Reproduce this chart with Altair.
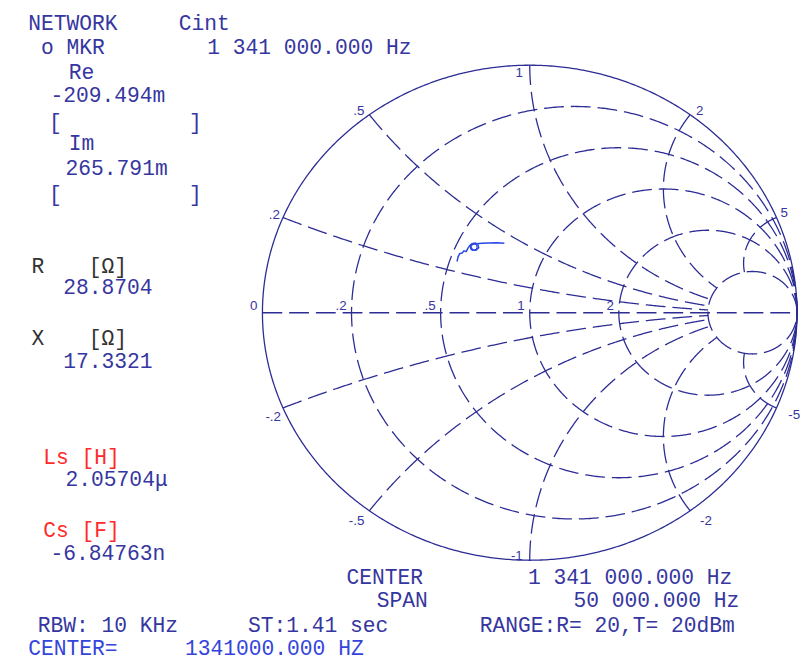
import re
import numpy as np
import pandas as pd
import altair as alt

# ---------------- values ----------------
R_CIRCLES = [0.2, 0.5, 1, 2, 5]                      # constant-resistance circles (normalised)
X_ARCS = [0.2, 0.5, 1, 2, 5, -0.2, -0.5, -1, -2, -5]  # constant-reactance arcs
R_LABEL_VALUES = [0, 0.2, 0.5, 1, 2]
R_LABELS = ["0", ".2", ".5", "1", "2"]
X_LABEL_VALUES = [0.2, 0.5, 1, 2, 5, -0.2, -0.5, -1, -2, -5]
X_LABELS = [".2", ".5", "1", "2", "5", "-.2", "-.5", "-1", "-2", "-5"]

# measured impedance locus (reflection coefficient, Re / Im)
TRACE_RE = [-0.272, -0.268, -0.262, -0.253, -0.246, -0.238, -0.231, -0.225, -0.216, -0.204,
            -0.194, -0.191, -0.201, -0.214, -0.221, -0.214, -0.198, -0.179, -0.154, -0.124, -0.095]
TRACE_IM = [0.207, 0.226, 0.239, 0.241, 0.250, 0.247, 0.261, 0.271, 0.279, 0.282,
            0.277, 0.263, 0.253, 0.255, 0.266, 0.277, 0.279, 0.281, 0.282, 0.283, 0.281]
MARKER_RE = [-0.209494]
MARKER_IM = [0.265791]

LEFT_LINES = [
    "NETWORK  Cint",
    " o MKR   1 341 000.000 Hz",
    "   Re",
    " -209.494m",
    "  [       ]",
    "   Im",
    "  265.791m",
    "  [       ]",
    " R  [Ω]",
    "  28.8704",
    " X  [Ω]",
    "  17.3321",
    " Ls [H]",
    "  2.05704μ",
    " Cs [F]",
    " -6.84763n",
]
BOTTOM_LINES = [
    "CENTER   1 341 000.000 Hz",
    "  SPAN      50 000.000 Hz",
]
FOOT_LINES = [
    "RBW: 10 KHz ST:1.41 sec RANGE:R= 20,T= 20dBm",
    "CENTER= 1341000.000 HZ",
]

# ---------------- layout / style ----------------
W, H = 802, 656
CX, CY = 527.0, 304.5
RX, RY = 270.0, 250.0
XDOM = [-CX / RX, (W - CX) / RX]
YDOM = [(CY - H) / RY, CY / RY]

NAVY = "#3636a0"
GRID = "#2c2c94"
TRACE = "#2a48e4"
RED = "#ff2a2a"
DARK = "#333333"
BRIGHT = "#3344dd"

MONO = "Liberation Mono"
MONO_SIZE = 21.5
PITCH = 17.7              # character pitch of the instrument's screen font
BREAK_AT = ["ST:1.41", "RANGE:R=", "1341000.000"]

LEFT_BASE = [27, 51, 76, 100, 127, 148, 173, 200, 272, 294, 345, 368, 465, 488, 539, 562]
LEFT_COLORS = [NAVY] * 8 + [DARK, NAVY, DARK, NAVY, RED, NAVY, RED, NAVY]
BOTTOM_BASE = [586, 610]
FOOT_BASE = [635, 658]
FOOT_COLORS = [NAVY, BRIGHT]

# pixel offsets of the grid labels (align, dx, dy)
R_LABEL_POS = [("right", -5, -3)] * 5
X_LABEL_POS = [("right", -3, 1), ("right", -5, 0), ("right", -7, 12), ("left", 6, 0), ("left", 4, -1),
               ("right", -2, 13), ("right", -5, 14), ("right", -7, 0), ("left", 10, 14), ("left", 12, 11)]


def gamma(z):
    return (z - 1) / (z + 1)


def to_gx(px):
    return (px - 8 - CX) / RX


def to_gy(py):
    return (CY - (py - 8)) / RY


# ---------------- grid geometry ----------------
theta = np.linspace(0, 2 * np.pi, 721)
rim = pd.DataFrame({"gx": np.cos(theta), "gy": np.sin(theta), "k": np.arange(len(theta)), "pid": "rim"})

rows = []
for r in R_CIRCLES:
    c, rad = r / (1 + r), 1 / (1 + r)
    for k, t in enumerate(theta):
        rows.append((c + rad * np.cos(t), rad * np.sin(t), k, f"r{r}"))
t = np.linspace(0, 1, 300)
rr = 5 * t ** 2
for x in X_ARCS:
    g = gamma(rr + 1j * x)
    for k, gv in enumerate(g):
        rows.append((gv.real, gv.imag, k, f"x{x}"))
rows.append((-1.0, 0.0, 0, "axis"))
rows.append((1.0, 0.0, 1, "axis"))
grid = pd.DataFrame(rows, columns=["gx", "gy", "k", "pid"])

xs = alt.Scale(domain=XDOM, nice=False, zero=False)
ys = alt.Scale(domain=YDOM, nice=False, zero=False)
X = alt.X("gx:Q", scale=xs, axis=None)
Y = alt.Y("gy:Q", scale=ys, axis=None)

rim_layer = alt.Chart(rim).mark_line(color=GRID, strokeWidth=1.3).encode(
    x=X, y=Y, order="k:Q", detail="pid:N")
grid_layer = alt.Chart(grid).mark_line(color=GRID, strokeWidth=1.3, strokeDash=[20, 7]).encode(
    x=X, y=Y, order="k:Q", detail="pid:N")

# ---------------- grid labels ----------------
lab_rows = []
for v, s, (al, dx, dy) in zip(R_LABEL_VALUES, R_LABELS, R_LABEL_POS):
    g = gamma(complex(v, 0))
    lab_rows.append((g.real + dx / RX, g.imag - dy / RY, s, al))
for v, s, (al, dx, dy) in zip(X_LABEL_VALUES, X_LABELS, X_LABEL_POS):
    g = gamma(complex(0, v))
    lab_rows.append((g.real + dx / RX, g.imag - dy / RY, s, al))
labs = pd.DataFrame(lab_rows, columns=["gx", "gy", "t", "al"])
lab_layers = [
    alt.Chart(labs[labs.al == al]).mark_text(
        align=al, baseline="alphabetic", font="Liberation Sans", fontSize=13.5, color=NAVY
    ).encode(x=X, y=Y, text="t:N")
    for al in ["left", "right"]
]

# ---------------- trace + marker ----------------
trace = pd.DataFrame({"gx": TRACE_RE, "gy": TRACE_IM, "k": range(len(TRACE_RE))})
trace_layer = alt.Chart(trace).mark_line(color=TRACE, strokeWidth=1.5).encode(x=X, y=Y, order="k:Q")
marker = pd.DataFrame({"gx": MARKER_RE, "gy": MARKER_IM})
marker_layer = alt.Chart(marker).mark_point(
    shape="circle", size=45, color=TRACE, strokeWidth=1.3, filled=False, opacity=1
).encode(x=X, y=Y)

# ---------------- readout text (segments centred on their character columns) ----------------
txt_rows = []


def segments(line):
    out = []
    for m in re.finditer(r"\S+(?: \S+)*", line):
        start, words = m.start(), m.group().split(" ")
        cur, cur_start, pos = [], start, start
        for w in words:
            if cur and w in BREAK_AT:
                out.append((cur_start, " ".join(cur)))
                cur, cur_start = [], pos
            cur.append(w)
            pos += len(w) + 1
        out.append((cur_start, " ".join(cur)))
    return out


def add_lines(lines, x0, bases, colors):
    for line, b, c in zip(lines, bases, colors):
        for start, s in segments(line):
            centre = x0 + (start + len(s) / 2) * PITCH
            txt_rows.append((to_gx(centre), to_gy(b), s, c))


add_lines(LEFT_LINES, 11.5, LEFT_BASE, LEFT_COLORS)
add_lines(BOTTOM_LINES, 335.5, BOTTOM_BASE, [NAVY, NAVY])
add_lines(FOOT_LINES, 11.5, FOOT_BASE, FOOT_COLORS)
txt = pd.DataFrame(txt_rows, columns=["gx", "gy", "t", "c"])
txt_layer = alt.Chart(txt).mark_text(
    align="center", baseline="alphabetic", font=MONO, fontSize=MONO_SIZE
).encode(x=X, y=Y, text="t:N", color=alt.Color("c:N", scale=None))

chart = alt.layer(
    grid_layer, rim_layer, *lab_layers, trace_layer, marker_layer, txt_layer
).properties(
    width=W, height=H, padding=0, autosize=alt.AutoSizeParams(type="none"), background="white"
).configure_view(strokeWidth=0)

chart.save("out.html", embed_options={"renderer": "svg", "actions": False})
